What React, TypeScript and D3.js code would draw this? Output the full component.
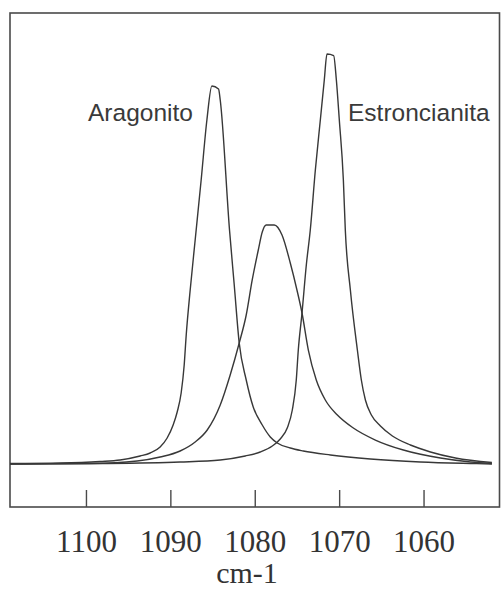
import React, { useRef, useEffect } from 'react';
import * as d3 from 'd3';

// Raman band, wavenumber (cm-1) vs relative intensity
const aragonito: [number, number][] = [
  [1109.0, 0.12], [1103.07, 0.24], [1098.33, 0.61], [1095.95, 0.98], [1093.58, 1.95],
  [1092.39, 2.68], [1091.21, 4.15], [1090.38, 6.34], [1089.67, 9.51], [1089.19, 12.68],
  [1088.72, 17.32], [1088.36, 24.15], [1088.12, 31.46], [1087.65, 42.44], [1087.06, 54.63],
  [1086.35, 69.27], [1085.67, 83.9], [1085.08, 92.2], [1084.29, 91.46], [1084.09, 88.78],
  [1082.99, 57.07], [1082.43, 43.66], [1081.84, 29.51], [1081.01, 20.49], [1080.18, 13.9],
  [1079.11, 9.51], [1078.16, 6.59], [1077.33, 5.12], [1075.79, 3.9], [1074.25, 3.17],
  [1071.04, 2.2], [1066.3, 1.22], [1060.37, 0.49], [1054.44, 0.12], [1051.9, 0.0],
];

const mezcla: [number, number][] = [
  [1109.0, 0.0], [1099.51, 0.12], [1093.94, 0.73], [1091.21, 1.71], [1088.84, 3.17],
  [1087.06, 5.37], [1085.63, 8.29], [1084.09, 14.39], [1082.91, 21.71], [1081.84, 29.51],
  [1081.01, 36.34], [1080.3, 44.88], [1079.58, 52.2], [1079.11, 56.59],
  [1078.64, 58.29], [1077.69, 58.29], [1076.77, 55.85], [1075.79, 49.02], [1075.0, 42.44],
  [1074.4, 36.83], [1073.65, 27.8], [1072.71, 20.49], [1071.64, 15.61], [1070.21, 11.95],
  [1068.32, 8.78], [1065.71, 5.85], [1062.39, 3.41], [1058.0, 1.46], [1054.44, 0.49],
  [1051.9, 0.12],
];

const estroncianita: [number, number][] = [
  [1109.0, 0.0], [1098.33, 0.12], [1088.84, 0.49], [1084.09, 0.98], [1081.13, 1.95],
  [1079.35, 2.93], [1077.92, 4.39], [1076.98, 6.1], [1076.15, 8.78], [1075.55, 13.17],
  [1075.08, 20.49], [1074.84, 27.8], [1074.4, 36.83], [1073.89, 48.54], [1073.42, 57.07],
  [1072.82, 71.71], [1072.23, 83.9], [1071.76, 93.66], [1071.44, 100.0], [1070.65, 99.63],
  [1070.33, 93.66], [1069.98, 83.9], [1069.5, 69.27], [1069.27, 57.07], [1068.67, 42.44],
  [1067.84, 27.8], [1067.37, 20.49], [1066.89, 15.61], [1066.18, 11.95], [1065.11, 9.27],
  [1063.69, 6.83], [1061.56, 4.63], [1059.18, 2.93], [1056.22, 1.46], [1051.9, 0.37],
];

const tickValues = [1100, 1090, 1080, 1070, 1060];
const xDomain: [number, number] = [1109, 1051];
const yDomain: [number, number] = [0, 100];

const App: React.FC = () => {
  const svgRef = useRef<SVGSVGElement>(null);
  const width = 501;
  const height = 591;

  useEffect(() => {
    if (!svgRef.current) return;
    const svg = d3.select(svgRef.current);
    svg.selectAll('*').remove();

    // plot frame (scan is a bit skewed, this is a compromise)
    const frame = { left: 10, right: 499.5, top: 13, bottom: 507 };

    const x = d3.scaleLinear().domain(xDomain).range([frame.left, frame.right]);
    const y = d3.scaleLinear().domain(yDomain).range([464, 54]);

    svg.append('rect')
      .attr('width', width)
      .attr('height', height)
      .attr('fill', '#fff');

    svg.append('rect')
      .attr('x', frame.left)
      .attr('y', frame.top)
      .attr('width', frame.right - frame.left)
      .attr('height', frame.bottom - frame.top)
      .attr('fill', 'none')
      .attr('stroke', '#4a4a4a')
      .attr('stroke-width', 1.6);

    const line = d3.line<[number, number]>()
      .x(d => x(d[0]))
      .y(d => y(d[1]))
      .curve(d3.curveMonotoneX);

    [aragonito, mezcla, estroncianita].forEach(series => {
      svg.append('path')
        .datum(series)
        .attr('d', line)
        .attr('fill', 'none')
        .attr('stroke', '#383838')
        .attr('stroke-width', 1.4)
        .attr('stroke-linejoin', 'round');
    });

    // bottom axis: short inward ticks, big serif labels
    const axis = svg.append('g')
      .attr('transform', `translate(0,${frame.bottom})`)
      .call(d3.axisBottom(x).tickValues(tickValues).tickSize(-17).tickSizeOuter(0).tickPadding(23).tickFormat(d3.format('d')))
      .call(g => g.select('.domain').remove());

    axis.selectAll('.tick line')
      .attr('stroke', '#4a4a4a')
      .attr('stroke-width', 1.4);

    axis.selectAll('.tick text')
      .attr('fill', '#333')
      .style('font-family', '"Liberation Serif", "Times New Roman", serif')
      .style('font-size', '31px');

    svg.append('text')
      .attr('x', 247)
      .attr('y', 583)
      .attr('text-anchor', 'middle')
      .attr('fill', '#333')
      .style('font-family', '"Liberation Serif", "Times New Roman", serif')
      .style('font-size', '30px')
      .text('cm-1');

    // peak labels
    const labels = [
      { text: 'Aragonito', x: 88 },
      { text: 'Estroncianita', x: 348 },
    ];
    svg.selectAll('.peak-label')
      .data(labels)
      .enter().append('text')
      .attr('class', 'peak-label')
      .attr('x', d => d.x)
      .attr('y', 121)
      .attr('fill', '#3a3a3a')
      .style('font-family', '"Liberation Sans", Arial, sans-serif')
      .style('font-size', '24.5px')
      .text(d => d.text);
  }, []);

  return (
    <svg
      ref={svgRef}
      width={width}
      height={height}
      style={{ position: 'absolute', left: 0, top: 0, display: 'block' }}
    />
  );
};

export default App;
